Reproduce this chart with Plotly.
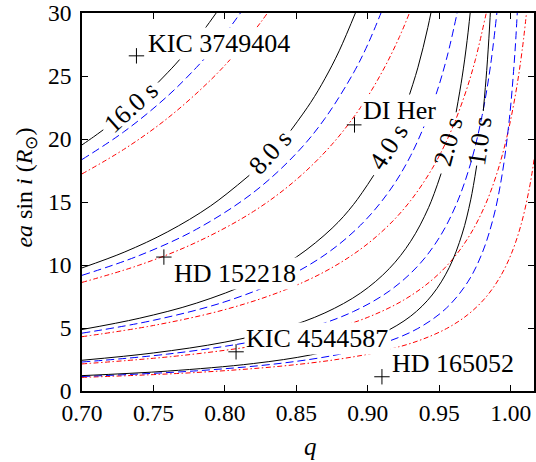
import plotly.graph_objects as go

FONT = "Liberation Serif"

# ---------------- data ----------------
# black solid curves (gaps = inline contour labels)
q_black_16 = [0.700, 0.708, 0.7149, None, 0.7532, 0.765, 0.775, 0.785, 0.795]
y_black_16 = [19.53, 20.16, 20.73, None, 24.48, 25.88, 27.19, 28.61, 30.18]
q_black_8 = [0.70, 0.73, 0.76, 0.79, 0.8171, None, 0.8461, 0.86, 0.87, 0.88, 0.892]
y_black_8 = [9.77, 11.04, 12.64, 14.69, 17.12, None, 20.67, 22.89, 24.79, 27.00, 30.19]
q_black_4 = [0.70, 0.74, 0.78, 0.82, 0.85, 0.875, 0.89, 0.9042, None, 0.926, 0.935, 0.942, 0.947]
y_black_4 = [4.88, 5.77, 6.97, 8.71, 10.63, 12.92, 14.80, 17.13, None, 22.43, 25.65, 28.85, 31.65]
q_black_2 = [0.70, 0.75, 0.80, 0.84, 0.87, 0.895, 0.915, 0.93, 0.9425, 0.9513, None,
             0.9618, 0.966, 0.9695, 0.973]
y_black_2 = [2.44, 3.02, 3.88, 4.95, 6.20, 7.78, 9.71, 11.88, 14.55, 17.26, None,
             22.12, 24.91, 27.82, 31.48]
q_black_1 = [0.70, 0.76, 0.82, 0.86, 0.89, 0.91, 0.93, 0.945, 0.957, 0.966, 0.972, 0.9762, None,
             0.9808, 0.9832, 0.9852, 0.987]
y_black_1 = [1.22, 1.58, 2.18, 2.86, 3.70, 4.57, 5.94, 7.62, 9.80, 12.46, 15.17, 17.89, None,
             22.22, 25.43, 28.89, 32.92]

# blue dashed curves
q_blue_16 = [0.70, 0.73, 0.76, 0.78, 0.79, 0.80, 0.815]
y_blue_16 = [18.37, 20.63, 23.42, 25.67, 26.94, 28.32, 30.66]
q_blue_8 = [0.70, 0.74, 0.78, 0.82, 0.85, 0.87, 0.89, 0.90, 0.912]
y_blue_8 = [9.18, 10.75, 12.83, 15.76, 18.86, 21.63, 25.25, 27.51, 30.79]
q_blue_4 = [0.70, 0.75, 0.80, 0.84, 0.87, 0.895, 0.915, 0.93, 0.945, 0.955, 0.965]
y_blue_4 = [4.59, 5.61, 7.08, 8.86, 10.81, 13.17, 15.86, 18.68, 22.65, 26.32, 31.35]
q_blue_2 = [0.70, 0.76, 0.82, 0.86, 0.89, 0.915, 0.935, 0.95, 0.962, 0.972, 0.98, 0.986, 0.992]
y_blue_2 = [2.30, 2.93, 3.94, 5.04, 6.31, 7.93, 9.92, 12.17, 14.83, 18.08, 21.87, 25.93, 31.78]
q_blue_1 = [0.70, 0.78, 0.84, 0.88, 0.91, 0.935, 0.955, 0.97, 0.98, 0.988, 0.994, 0.999,
            1.002, 1.004, 1.007]
y_blue_1 = [1.15, 1.60, 2.21, 2.91, 3.77, 4.96, 6.58, 8.66, 10.94, 13.81, 17.18, 21.53,
            25.37, 28.78, 36.03]

# red dash-dot curves
q_red_16 = [0.70, 0.73, 0.76, 0.79, 0.81, 0.825, 0.835]
y_red_16 = [17.23, 19.23, 21.66, 24.68, 27.12, 29.25, 30.85]
q_red_8 = [0.70, 0.74, 0.78, 0.82, 0.85, 0.875, 0.895, 0.91, 0.922, 0.932]
y_red_8 = [8.62, 9.99, 11.80, 14.25, 16.78, 19.58, 22.52, 25.32, 28.07, 30.82]
q_red_4 = [0.70, 0.75, 0.80, 0.84, 0.87, 0.895, 0.915, 0.93, 0.945, 0.957, 0.967, 0.975, 0.985]
y_red_4 = [4.31, 5.20, 6.46, 7.93, 9.48, 11.26, 13.20, 15.12, 17.64, 20.31, 23.22, 26.18, 31.10]
q_red_2 = [0.70, 0.77, 0.83, 0.87, 0.90, 0.925, 0.945, 0.96, 0.972, 0.982, 0.99, 0.997,
           1.003, 1.008, 1.013]
y_red_2 = [2.15, 2.82, 3.75, 4.74, 5.85, 7.21, 8.82, 10.55, 12.49, 14.72, 17.15, 20.01,
           23.32, 27.03, 32.12]
q_red_1 = [0.70, 0.78, 0.84, 0.88, 0.91, 0.935, 0.955, 0.97, 0.982, 0.992, 1.000, 1.007,
           1.013, 1.0165]
y_red_1 = [1.08, 1.47, 1.98, 2.53, 3.16, 3.97, 4.95, 6.06, 7.36, 8.94, 10.77, 13.10,
           16.06, 18.48]

# contour label texts
contour_labels = ["16.0 s", "8.0 s", "4.0 s", "2.0 s", "1.0 s"]

# stars
star_names = ["KIC 3749404", "DI Her", "HD 152218", "KIC 4544587", "HD 165052"]
star_q = [0.7381, 0.8907, 0.7573, 0.8078, 0.9099]
star_easini = [26.6, 21.12, 10.63, 3.11, 1.13]

x_ticks = [0.70, 0.75, 0.80, 0.85, 0.90, 0.95, 1.00]
y_ticks = [0, 5, 10, 15, 20, 25, 30]

# ---------------- figure ----------------
fig = go.Figure()

blacks = [(q_black_16, y_black_16), (q_black_8, y_black_8), (q_black_4, y_black_4),
          (q_black_2, y_black_2), (q_black_1, y_black_1)]
blues = [(q_blue_16, y_blue_16), (q_blue_8, y_blue_8), (q_blue_4, y_blue_4),
         (q_blue_2, y_blue_2), (q_blue_1, y_blue_1)]
reds = [(q_red_16, y_red_16), (q_red_8, y_red_8), (q_red_4, y_red_4),
        (q_red_2, y_red_2), (q_red_1, y_red_1)]

for q, y in reds:
    fig.add_trace(go.Scatter(x=q, y=y, mode="lines", connectgaps=False,
                             line=dict(color="#ff0000", width=1, shape="spline",
                                       dash="5px,2.5px,1.5px,2.5px"),
                             hoverinfo="skip", showlegend=False))
for q, y in blues:
    fig.add_trace(go.Scatter(x=q, y=y, mode="lines", connectgaps=False,
                             line=dict(color="#0000ff", width=1, shape="spline",
                                       dash="8px,4px"),
                             hoverinfo="skip", showlegend=False))
for q, y in blacks:
    fig.add_trace(go.Scatter(x=q, y=y, mode="lines", connectgaps=False,
                             line=dict(color="black", width=1, shape="spline"),
                             hoverinfo="skip", showlegend=False))

fig.add_trace(go.Scatter(x=star_q, y=star_easini, mode="markers",
                         marker=dict(symbol="cross-thin", size=11,
                                     line=dict(color="black", width=1)),
                         hoverinfo="skip", showlegend=False))

# contour labels: positions and angles
clab_pos = [(0.7340, 22.51, -42), (0.8316, 18.91, -47.6), (0.9146, 19.40, -57),
            (0.9564, 19.79, -75), (0.9785, 19.87, -82)]
for txt, (xx, yy, ang) in zip(contour_labels, clab_pos):
    fig.add_annotation(x=xx, y=yy, text=txt, showarrow=False, textangle=ang,
                       xanchor="center", yanchor="middle",
                       font=dict(family=FONT, size=26, color="black"))

# star labels (white boxes hide curves behind them)
slab_pos = [(0.7446, 27.6), (0.8949, 22.25), (0.7632, 9.32), (0.8131, 4.20), (0.9153, 2.15)]
for txt, (xx, yy) in zip(star_names, slab_pos):
    fig.add_annotation(x=xx, y=yy, text=txt, showarrow=False, xanchor="left",
                       yanchor="middle", bgcolor="white", borderpad=1,
                       font=dict(family=FONT, size=26, color="black"))

# axis titles
fig.add_annotation(xref="paper", yref="paper", x=-0.124, y=0.538,
                   text="<i>ea</i> sin <i>i</i> (<i>R</i><sub>⊙</sub>)",
                   textangle=-90, showarrow=False, xanchor="center", yanchor="middle",
                   font=dict(family=FONT, size=24, color="black"))
fig.add_annotation(xref="paper", yref="paper", x=0.506, y=-0.147, text="<i>q</i>",
                   showarrow=False, xanchor="center", yanchor="middle",
                   font=dict(family=FONT, size=25, color="black"))

axis_common = dict(showgrid=False, zeroline=False, ticks="inside", ticklen=6,
                   tickwidth=1, tickcolor="black", ticklabeloverflow="allow",
                   showline=True, linecolor="black", linewidth=1.5, mirror="ticks",
                   tickfont=dict(family=FONT, size=23.5, color="black"))

fig.update_layout(
    width=536, height=462,
    margin=dict(l=82, r=0, t=12, b=71),
    paper_bgcolor="white", plot_bgcolor="white",
    xaxis=dict(range=[0.70, 1.0163], tickvals=x_ticks, tickformat=".2f", **axis_common),
    yaxis=dict(range=[0, 30], tickvals=y_ticks, tickformat="d",
               ticklabelstandoff=4, **axis_common),
    showlegend=False,
)

fig.write_html("out.html",
               config={"displayModeBar": False},
               post_script="document.body.style.margin='0';"
                           "document.body.style.overflow='hidden';")
